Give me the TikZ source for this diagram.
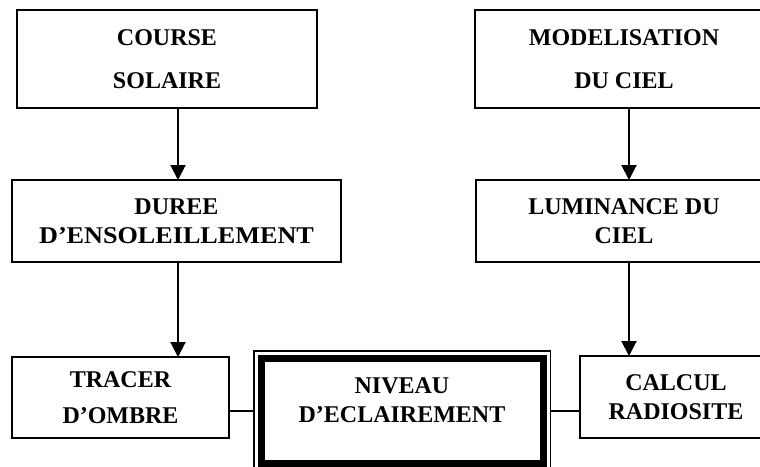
\documentclass[tikz,border=0pt]{standalone}
\usepackage{fontspec}
\usepackage{graphicx}
\setmainfont{Liberation Serif}
\usetikzlibrary{arrows.meta}
\begin{document}
\begin{tikzpicture}[x=1pt,y=-1pt,
  txt/.style={align=center, font=\fontsize{24}{29}\selectfont\bfseries, inner sep=0pt},
  box/.style={txt, draw, line width=1.6pt, outer sep=0pt},
  arr/.style={line width=2pt, -{Triangle[length=15pt,width=15pt]}},
  link/.style={line width=1.6pt}]
\useasboundingbox (0,0) rectangle (760,466);
% left column
\node[box, minimum width=300pt, minimum height=98pt] (course) at (167,59) {COURSE\\[14pt]SOLAIRE};
\node[box, minimum width=329pt, minimum height=82pt] (duree) at (176.5,221) {DUREE\\\scalebox{1.09}[1]{D’ENSOLEILLEMENT}};
\node[box, minimum width=217pt, minimum height=81pt] (tracer) at (120.5,397.5) {\raisebox{-2pt}{TRACER}\\[9pt]D’OMBRE};
% right column
\node[box, minimum width=298pt, minimum height=98pt] (model) at (624,59) {MODELISATION\\[14pt]DU CIEL};
\node[box, minimum width=296pt, minimum height=82pt] (lumin) at (624,221) {LUMINANCE DU\\CIEL};
\node[box, minimum width=192pt, minimum height=82pt] (calcul) at (676,397) {CALCUL\\RADIOSITE};
% central box
\node[minimum width=296.5pt, minimum height=120pt, inner sep=0pt, outer sep=0pt] (niv) at (402.25,411) {};
\draw[line width=1.5pt] (niv.north west) rectangle (niv.south east);
\draw[line width=7pt] ([shift={(7.5,7.5)}]niv.north west) rectangle ([shift={(-7.5,-7.5)}]niv.south east);
\node[txt] (nivt) at (402,400) {NIVEAU\\D’ECLAIREMENT};
% connectors
\coordinate (xl) at (178,0);
\coordinate (xr) at (629,0);
\draw[arr] (course.south -| xl) -- (duree.north -| xl);
\draw[arr] (duree.south -| xl) -- (tracer.north -| xl);
\draw[arr] (model.south -| xr) -- (lumin.north -| xr);
\draw[arr] (lumin.south -| xr) -- (calcul.north -| xr);
\draw[link] (tracer.east |- niv.west) -- (niv.west);
\draw[link] (niv.east) -- (calcul.west |- niv.east);
\end{tikzpicture}
\end{document}
